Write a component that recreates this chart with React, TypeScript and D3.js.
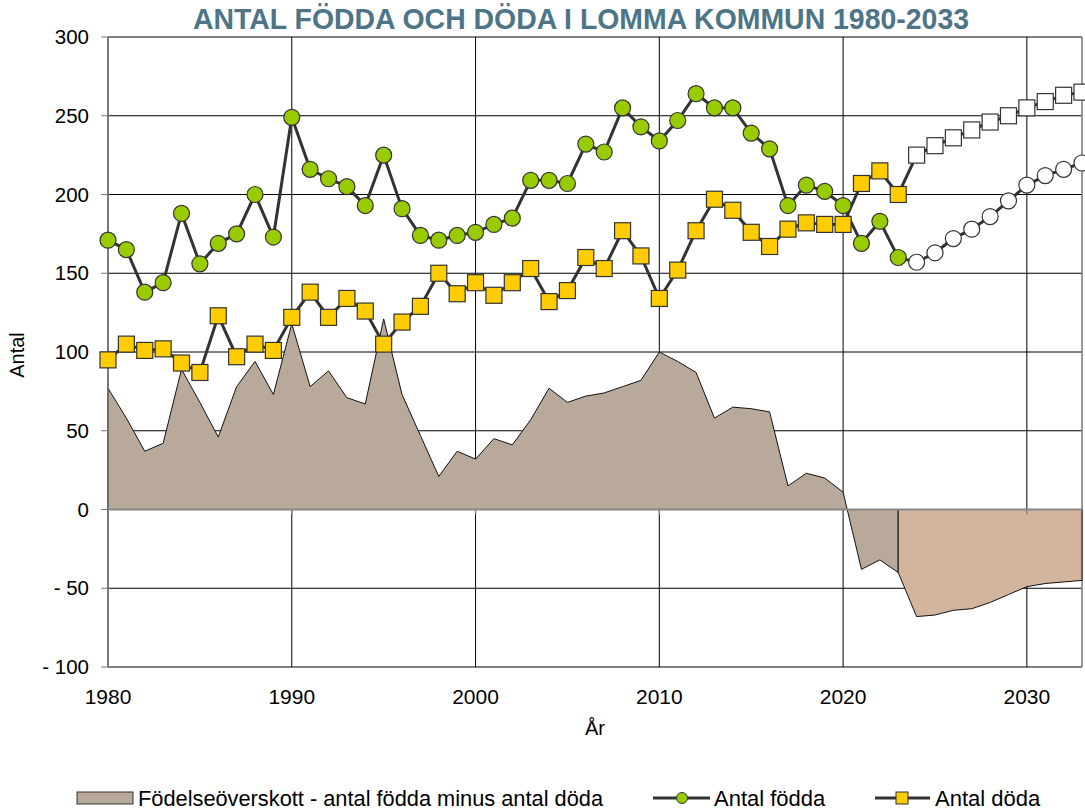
import React from "react";
import * as d3 from "d3";

// years
const histYears = d3.range(1980, 2024);
const progYears = d3.range(2024, 2034);

// antal födda 1980-2023
const born = [
  171, 165, 138, 144, 188, 156, 169, 175, 200, 173,
  249, 216, 210, 205, 193, 225, 191, 174, 171, 174,
  176, 181, 185, 209, 209, 207, 232, 227, 255, 243,
  234, 247, 264, 255, 255, 239, 229, 193, 206, 202,
  193, 169, 183, 160,
];
// antal döda 1980-2023
const died = [
  95, 105, 101, 102, 93, 87, 123, 97, 105, 101,
  122, 138, 122, 134, 126, 105, 119, 129, 150, 137,
  144, 136, 144, 153, 132, 139, 160, 153, 177, 161,
  134, 152, 177, 197, 190, 176, 167, 178, 182, 181,
  181, 207, 215, 200,
];
// födelseöverskott 1980-2023
const surplus = [
  77, 58, 37, 42, 89, 68, 46, 78, 94, 73,
  118, 78, 88, 71, 67, 121, 73, 47, 21, 37,
  32, 45, 41, 57, 77, 68, 72, 74, 78, 82,
  100, 94, 87, 58, 65, 64, 62, 15, 23, 20,
  11, -38, -32, -40,
];

// prognos 2024-2033
const bornProg = [157, 163, 172, 178, 186, 196, 206, 212, 216, 220];
const diedProg = [225, 231, 236, 241, 246, 250, 255, 259, 263, 265];
// prognos födelseöverskott 2023-2033 (starts at the last real year)
const surplusProg = [-40, -68, -67, -64, -63, -59, -54, -49, -47, -46, -45];

const yTicks = [300, 250, 200, 150, 100, 50, 0, -50, -100];
const xTicks = [1980, 1990, 2000, 2010, 2020, 2030];

const W = 1085;
const H = 811;
const FONT = "'Liberation Sans', Arial, sans-serif";

export default function App() {
  const x = d3.scaleLinear().domain([1980, 2033]).range([108, 1082]);
  const y = d3.scaleLinear().domain([-100, 300]).range([667, 37]);

  const histArea = d3
    .area<number>()
    .x((d, i) => x(histYears[i]))
    .y0(y(0))
    .y1((d) => y(d));
  const progArea = d3
    .area<number>()
    .x((d, i) => x(2023 + i))
    .y0(y(0))
    .y1((d) => y(d));

  const line = d3
    .line<[number, number]>()
    .x((d) => x(d[0]))
    .y((d) => y(d[1]));

  const bornPts: [number, number][] = histYears
    .map((yr, i) => [yr, born[i]] as [number, number])
    .concat(progYears.map((yr, i) => [yr, bornProg[i]] as [number, number]));
  const diedPts: [number, number][] = histYears
    .map((yr, i) => [yr, died[i]] as [number, number])
    .concat(progYears.map((yr, i) => [yr, diedProg[i]] as [number, number]));

  const fmt = (v: number) => (v < 0 ? "- " + Math.abs(v) : String(v));

  return (
    <svg
      width={W}
      height={H}
      style={{ position: "absolute", left: 0, top: 0, background: "#fff" }}
      fontFamily={FONT}
    >
      {/* title */}
      <text
        x={193}
        y={29}
        textLength={776}
        lengthAdjust="spacingAndGlyphs"
        fontFamily="'Liberation Sans Narrow', 'Liberation Sans', sans-serif"
        fontWeight="bold"
        fontSize={30}
        fill="#4d7587"
      >
        ANTAL FÖDDA OCH DÖDA I LOMMA KOMMUN 1980-2033
      </text>

      {/* grid */}
      {yTicks.map((t) => (
        <line key={"h" + t} x1={x(1980)} x2={x(2033)} y1={y(t)} y2={y(t)} stroke="#000" strokeWidth={1} />
      ))}
      {xTicks.map((t) => (
        <line key={"v" + t} x1={x(t)} x2={x(t)} y1={y(300)} y2={y(-100)} stroke="#000" strokeWidth={1} />
      ))}
      <line x1={x(2033)} x2={x(2033)} y1={y(300)} y2={y(-100)} stroke="#777" strokeWidth={1.5} />

      {/* areas */}
      <path d={histArea(surplus) || ""} fill="#b8a99a" stroke="#111" strokeWidth={1} />
      <path d={progArea(surplusProg) || ""} fill="#d2b59c" stroke="#111" strokeWidth={1} />

      {/* axes */}
      <line x1={x(1980)} x2={x(2033)} y1={y(0)} y2={y(0)} stroke="#888" strokeWidth={2} />
      {xTicks.map((t) => (
        <line key={"xt" + t} x1={x(t)} x2={x(t)} y1={y(0)} y2={y(0) + 5} stroke="#888" strokeWidth={1.5} />
      ))}
      <line x1={x(1980)} x2={x(1980)} y1={y(300)} y2={y(-100)} stroke="#777" strokeWidth={1.5} />
      {yTicks.map((t) => (
        <g key={"yl" + t}>
          <line x1={x(1980) - 7} x2={x(1980)} y1={y(t)} y2={y(t)} stroke="#777" strokeWidth={1} />
          <text x={89} y={y(t) + 7} textAnchor="end" fontSize={20.5} fill="#000">
            {fmt(t)}
          </text>
        </g>
      ))}
      {xTicks.map((t) => (
        <text key={"xl" + t} x={x(t)} y={704} textAnchor="middle" fontSize={21} fill="#000">
          {t}
        </text>
      ))}
      <text x={595} y={735} textAnchor="middle" fontSize={20}>
        År
      </text>
      <text transform="translate(24,355) rotate(-90)" textAnchor="middle" fontSize={20}>
        Antal
      </text>

      {/* lines */}
      <path d={line(bornPts) || ""} fill="none" stroke="#333" strokeWidth={3} />
      <path d={line(diedPts) || ""} fill="none" stroke="#333" strokeWidth={3} />

      {/* markers */}
      {histYears.map((yr, i) => (
        <circle key={"b" + yr} cx={x(yr)} cy={y(born[i])} r={8} fill="#99cc00" stroke="#333" strokeWidth={1.2} />
      ))}
      {progYears.map((yr, i) => (
        <circle key={"bp" + yr} cx={x(yr)} cy={y(bornProg[i])} r={8} fill="#fff" stroke="#333" strokeWidth={1.2} />
      ))}
      {histYears.map((yr, i) => (
        <rect
          key={"d" + yr}
          x={x(yr) - 8}
          y={y(died[i]) - 8}
          width={16}
          height={16}
          fill="#ffcc00"
          stroke="#333"
          strokeWidth={1.2}
        />
      ))}
      {progYears.map((yr, i) => (
        <rect
          key={"dp" + yr}
          x={x(yr) - 8}
          y={y(diedProg[i]) - 8}
          width={16}
          height={16}
          fill="#fff"
          stroke="#333"
          strokeWidth={1.2}
        />
      ))}

      {/* legend */}
      <g fontSize={22}>
        <rect x={77} y={792} width={56} height={12} fill="#b8a99a" stroke="#333" strokeWidth={1} />
        <text x={138} y={806} textLength={465} lengthAdjust="spacingAndGlyphs">
          Födelseöverskott - antal födda minus antal döda
        </text>

        <line x1={653} x2={710} y1={798} y2={798} stroke="#333" strokeWidth={3} />
        <circle cx={682} cy={798} r={5.5} fill="#99cc00" stroke="#333" strokeWidth={1} />
        <text x={714} y={806}>Antal födda</text>

        <line x1={875} x2={930} y1={798} y2={798} stroke="#333" strokeWidth={3} />
        <rect x={896} y={792} width={12} height={12} fill="#ffcc00" stroke="#333" strokeWidth={1} />
        <text x={935} y={806}>Antal döda</text>
      </g>
    </svg>
  );
}
